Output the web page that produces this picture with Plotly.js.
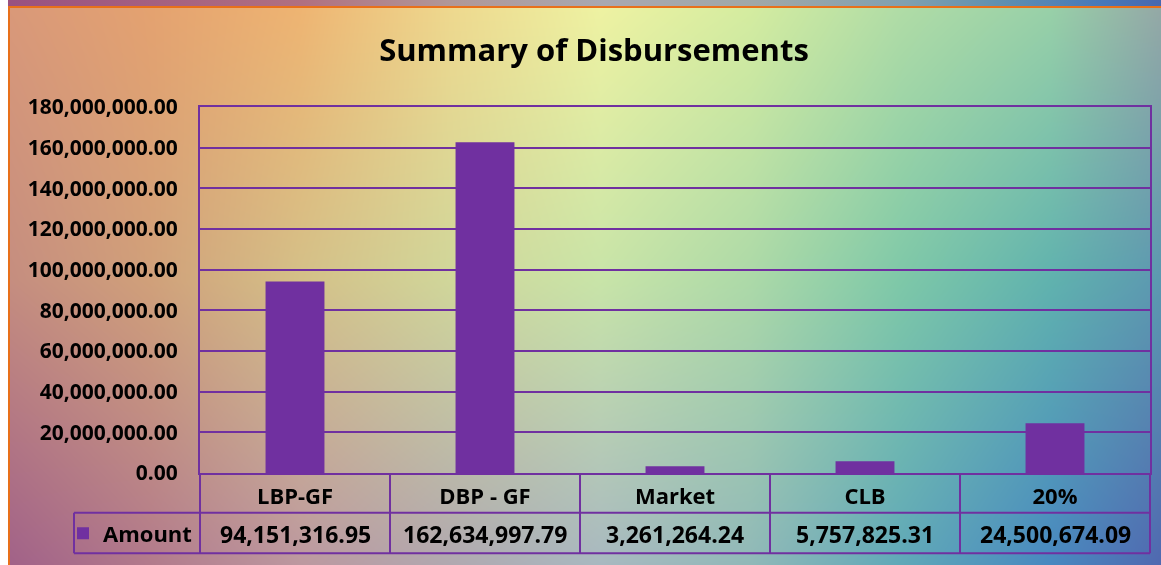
<!DOCTYPE html>
<html>
<head>
<meta charset="utf-8">
<script src="https://cdn.plot.ly/plotly-3.0.1.min.js"></script>
<style>
  html, body { margin: 0; padding: 0; background: #ffffff; }
  #wrap { position: relative; width: 1161px; height: 565px; overflow: hidden; }
  #bg { position: absolute; left: 0; top: 0; }
  #chart { position: absolute; left: 0; top: 0; width: 1161px; height: 565px; }
</style>
</head>
<body>
<div id="wrap">
  <canvas id="bg" width="1161" height="565"></canvas>
  <div id="chart"></div>
</div>
<script>
// ---------------- data ----------------
const categories = ["LBP-GF", "DBP - GF", "Market", "CLB", "20%"];
const amounts = [94151316.95, 162634997.79, 3261264.24, 5757825.31, 24500674.09];
const seriesName = "Amount";
const chartTitle = "Summary of Disbursements";
const yTickStep = 20000000;
const yMax = 180000000;

// ---------------- background (page decoration) ----------------
(function drawBackground() {
  const cv = document.getElementById('bg');
  const ctx = cv.getContext('2d');
  const W = cv.width, H = cv.height;
  const xs = [0, 150, 300, 450, 600, 750, 900, 1050, 1161];
  const ys = [8, 280, 565];
  const rows = [
    ["#d8987a", "#e4a270", "#eeb472", "#eed88e", "#eef2a2", "#d4eca0", "#b0dca6", "#98d0a8", "#94a8a6"],
    ["#c48c80", "#d0a07a", "#d4c088", "#d0d69a", "#c8e4a8", "#acd9a8", "#7ec8a8", "#60b2ae", "#5c98b0"],
    ["#a06088", "#b27a8c", "#bc98a0", "#b0a8b0", "#a8b8c0", "#90b8b8", "#60a8b8", "#4888c0", "#5068b0"]
  ];
  const hex = h => [parseInt(h.substr(1,2),16), parseInt(h.substr(3,2),16), parseInt(h.substr(5,2),16)];
  const grid = rows.map(r => r.map(hex));
  const img = ctx.createImageData(W, H);
  function seg(arr, v) {
    let i = 0;
    while (i < arr.length - 2 && v > arr[i+1]) i++;
    let t = (v - arr[i]) / (arr[i+1] - arr[i]);
    t = Math.max(0, Math.min(1, t));
    return [i, t];
  }
  for (let y = 0; y < H; y++) {
    const [j, ty] = seg(ys, y);
    for (let x = 0; x < W; x++) {
      const [i, tx] = seg(xs, x);
      const idx = (y * W + x) * 4;
      for (let c = 0; c < 3; c++) {
        const a = grid[j][i][c] * (1 - tx) + grid[j][i+1][c] * tx;
        const b = grid[j+1][i][c] * (1 - tx) + grid[j+1][i+1][c] * tx;
        img.data[idx + c] = a * (1 - ty) + b * ty;
      }
      img.data[idx + 3] = 255;
    }
  }
  ctx.putImageData(img, 0, 0);
  const g = ctx.createLinearGradient(0, 0, W, 0);
  [[0, "#985080"], [0.26, "#b07080"], [0.39, "#b09898"], [0.52, "#a8a8b0"], [0.65, "#a0a8a8"],
   [0.78, "#80a0b0"], [0.86, "#6090b0"], [0.95, "#4878b8"], [1, "#4868b0"]].forEach(s => g.addColorStop(s[0], s[1]));
  ctx.fillStyle = g;
  ctx.fillRect(0, 0, W, 7);
  ctx.fillStyle = "#ffffff";
  ctx.fillRect(0, 0, 8, H);
  ctx.fillStyle = "#e8701a";
  ctx.fillRect(8, 6, W - 8, 2);
  ctx.fillRect(8, 6, 2, H - 6);
})();

// ---------------- chart ----------------
const W = 1161, H = 565;
const M = { l: 200, r: 11, t: 107, b: 89 };
const plotW = W - M.l - M.r, plotH = H - M.t - M.b;
const px = xp => (xp - M.l) / plotW;          // page x -> paper x
const py = yp => (H - M.b - yp) / plotH;       // page y -> paper y

const purple = "#7030A0";
const fam = "'Open Sans', Lato, sans-serif";
const bold = { family: fam, weight: 700, color: "#000000" };

const rowTop = H - M.b, rowMid = 516, rowBot = 557, legendLeft = 74;

const shapes = [];
const lineStyle = { color: purple, width: 2 };
[rowMid, rowBot].forEach(yp => shapes.push({
  type: 'line', xref: 'paper', yref: 'paper',
  x0: px(legendLeft), x1: 1, y0: py(yp), y1: py(yp), line: lineStyle
}));
for (let k = 0; k <= categories.length; k++) {
  const xb = k / categories.length;
  shapes.push({ type: 'line', xref: 'paper', yref: 'paper',
    x0: xb, x1: xb, y0: py(rowTop), y1: py(rowBot), line: lineStyle });
}
shapes.push({ type: 'line', xref: 'paper', yref: 'paper',
  x0: px(legendLeft), x1: px(legendLeft), y0: py(rowMid), y1: py(rowBot), line: lineStyle });

const fmt = v => v.toLocaleString('en-US', { minimumFractionDigits: 2, maximumFractionDigits: 2 });
const annotations = categories.map((c, i) => ({
  x: c, xref: 'x', y: py(537), yref: 'paper',
  text: fmt(amounts[i]), showarrow: false, xanchor: 'center', yanchor: 'middle',
  font: Object.assign({ size: 23 }, bold)
}));

const trace = {
  type: 'bar', x: categories, y: amounts, name: seriesName,
  marker: { color: purple, line: { width: 0 } },
  hoverinfo: 'x+y', showlegend: true
};

const layout = {
  width: W, height: H,
  margin: { l: M.l, r: M.r, t: M.t, b: M.b, pad: 0 },
  paper_bgcolor: 'rgba(0,0,0,0)', plot_bgcolor: 'rgba(0,0,0,0)',
  title: {
    text: chartTitle, xref: 'container', x: 594 / W, xanchor: 'center',
    yref: 'container', y: 1 - 50 / H, yanchor: 'middle',
    font: Object.assign({ size: 31 }, bold)
  },
  bargap: 0.69,
  xaxis: {
    type: 'category', showline: true, mirror: true, linecolor: purple, linewidth: 2,
    ticks: '', showgrid: false, zeroline: false,
    tickfont: Object.assign({ size: 22 }, bold), ticklabelstandoff: 3,
    fixedrange: true
  },
  yaxis: {
    range: [0, yMax], tick0: 0, dtick: yTickStep, tickformat: ',.2f',
    showgrid: true, gridcolor: purple, gridwidth: 2,
    showline: true, mirror: true, linecolor: purple, linewidth: 2,
    zeroline: false, ticks: '', ticklabelstandoff: 16,
    tickfont: Object.assign({ size: 21 }, bold), fixedrange: true
  },
  showlegend: true,
  legend: {
    x: px(63), xanchor: 'left', y: py(537), yanchor: 'middle',
    bgcolor: 'rgba(0,0,0,0)', borderwidth: 0,
    font: Object.assign({ size: 22 }, bold)
  },
  shapes: shapes,
  annotations: annotations
};

Plotly.newPlot('chart', [trace], layout, { displayModeBar: false });
</script>
</body>
</html>
